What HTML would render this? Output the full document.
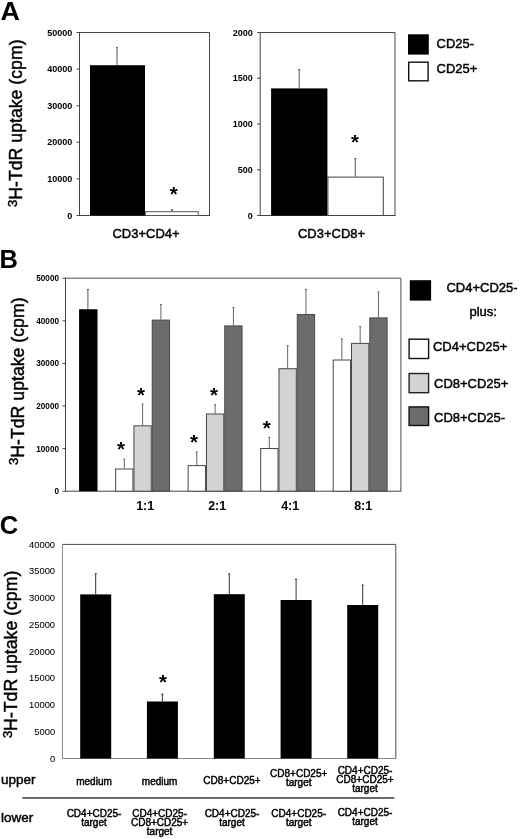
<!DOCTYPE html>
<html><head><meta charset="utf-8"><style>
html,body{margin:0;padding:0;background:#fff;}
body{width:520px;height:839px;overflow:hidden;}
svg{display:block;font-family:"Liberation Sans", sans-serif;will-change:transform;filter:blur(0.35px);}
</style></head><body>
<svg width="520" height="839" viewBox="0 0 520 839">
<rect x="0" y="0" width="520" height="839" fill="#fff"/>
<text x="0.5" y="19.6" font-size="25.5" font-weight="bold" textLength="19.4" lengthAdjust="spacingAndGlyphs">A</text>
<text transform="translate(22.3,123.2) rotate(-90)" font-size="17.7" text-anchor="middle" stroke="#000" stroke-width="0.45"><tspan font-size="13" dy="-5.3">3</tspan><tspan dy="5.3">H-TdR uptake (cpm)</tspan></text>
<line x1="79.5" y1="32.5" x2="209.5" y2="32.5" stroke="#4a4a4a" stroke-width="1"/>
<line x1="209.5" y1="32.5" x2="209.5" y2="215.5" stroke="#4a4a4a" stroke-width="1"/>
<line x1="79.5" y1="32.0" x2="79.5" y2="216.0" stroke="#444" stroke-width="1"/>
<line x1="79.0" y1="215.5" x2="210.0" y2="215.5" stroke="#444" stroke-width="1"/>
<line x1="76.5" y1="215.5" x2="79.5" y2="215.5" stroke="#444" stroke-width="1"/>
<text x="72.2" y="218.6" font-size="9" text-anchor="end" font-weight="bold">0</text>
<line x1="76.5" y1="178.9" x2="79.5" y2="178.9" stroke="#444" stroke-width="1"/>
<text x="72.2" y="182.0" font-size="9" text-anchor="end" font-weight="bold">10000</text>
<line x1="76.5" y1="142.3" x2="79.5" y2="142.3" stroke="#444" stroke-width="1"/>
<text x="72.2" y="145.4" font-size="9" text-anchor="end" font-weight="bold">20000</text>
<line x1="76.5" y1="105.7" x2="79.5" y2="105.7" stroke="#444" stroke-width="1"/>
<text x="72.2" y="108.8" font-size="9" text-anchor="end" font-weight="bold">30000</text>
<line x1="76.5" y1="69.1" x2="79.5" y2="69.1" stroke="#444" stroke-width="1"/>
<text x="72.2" y="72.19999999999999" font-size="9" text-anchor="end" font-weight="bold">40000</text>
<line x1="76.5" y1="32.5" x2="79.5" y2="32.5" stroke="#444" stroke-width="1"/>
<text x="72.2" y="35.6" font-size="9" text-anchor="end" font-weight="bold">50000</text>
<rect x="90.00" y="65.20" width="55.00" height="150.30" fill="#000"/>
<line x1="117" y1="47.2" x2="117" y2="65.2" stroke="#555" stroke-width="1"/>
<line x1="116" y1="47.7" x2="118" y2="47.7" stroke="#555" stroke-width="1"/>
<rect x="145.50" y="211.70" width="52.80" height="3.80" fill="#fff" stroke="#555" stroke-width="1"/>
<line x1="172" y1="209.5" x2="172" y2="211" stroke="#333" stroke-width="1"/>
<line x1="171" y1="210.0" x2="173" y2="210.0" stroke="#333" stroke-width="1"/>
<text x="173.7" y="200.9345" font-size="20.5" text-anchor="middle" font-weight="bold">*</text>
<text x="146" y="238.2" font-size="13" text-anchor="middle" stroke="#000" stroke-width="0.45">CD3+CD4+</text>
<line x1="260.2" y1="32.5" x2="395" y2="32.5" stroke="#4a4a4a" stroke-width="1"/>
<line x1="395" y1="32.5" x2="395" y2="215.5" stroke="#4a4a4a" stroke-width="1"/>
<line x1="260.2" y1="32.0" x2="260.2" y2="216.0" stroke="#444" stroke-width="1"/>
<line x1="259.7" y1="215.5" x2="395.5" y2="215.5" stroke="#444" stroke-width="1"/>
<line x1="257.2" y1="215.5" x2="260.2" y2="215.5" stroke="#444" stroke-width="1"/>
<text x="252.8" y="218.6" font-size="9" text-anchor="end" font-weight="bold">0</text>
<line x1="257.2" y1="169.75" x2="260.2" y2="169.75" stroke="#444" stroke-width="1"/>
<text x="252.8" y="172.85" font-size="9" text-anchor="end" font-weight="bold">500</text>
<line x1="257.2" y1="124.0" x2="260.2" y2="124.0" stroke="#444" stroke-width="1"/>
<text x="252.8" y="127.1" font-size="9" text-anchor="end" font-weight="bold">1000</text>
<line x1="257.2" y1="78.25" x2="260.2" y2="78.25" stroke="#444" stroke-width="1"/>
<text x="252.8" y="81.35" font-size="9" text-anchor="end" font-weight="bold">1500</text>
<line x1="257.2" y1="32.5" x2="260.2" y2="32.5" stroke="#444" stroke-width="1"/>
<text x="252.8" y="35.6" font-size="9" text-anchor="end" font-weight="bold">2000</text>
<rect x="271.10" y="88.40" width="56.30" height="127.10" fill="#000"/>
<line x1="299.2" y1="69" x2="299.2" y2="88.6" stroke="#555" stroke-width="1"/>
<line x1="298.2" y1="69.5" x2="300.2" y2="69.5" stroke="#555" stroke-width="1"/>
<rect x="327.90" y="177.10" width="55.40" height="38.40" fill="#fff" stroke="#444" stroke-width="1"/>
<line x1="355.3" y1="158" x2="355.3" y2="176.6" stroke="#555" stroke-width="1"/>
<line x1="354.3" y1="158.5" x2="356.3" y2="158.5" stroke="#555" stroke-width="1"/>
<text x="355" y="149.4345" font-size="20.5" text-anchor="middle" font-weight="bold">*</text>
<text x="331.5" y="238.2" font-size="13" text-anchor="middle" stroke="#000" stroke-width="0.45">CD3+CD8+</text>
<rect x="408.00" y="34.30" width="20.80" height="20.30" fill="#000"/>
<rect x="408.70" y="62.20" width="19.40" height="18.60" fill="#fff" stroke="#111" stroke-width="1.4"/>
<text x="436.5" y="47.7" font-size="13" stroke="#000" stroke-width="0.45">CD25-</text>
<text x="436.5" y="73.3" font-size="13" stroke="#000" stroke-width="0.45">CD25+</text>
<text x="-0.5" y="268.3" font-size="25.5" font-weight="bold">B</text>
<text transform="translate(23.6,381.2) rotate(-90)" font-size="17.7" text-anchor="middle" stroke="#000" stroke-width="0.45"><tspan font-size="13" dy="-5.3">3</tspan><tspan dy="5.3">H-TdR uptake (cpm)</tspan></text>
<line x1="65.5" y1="278.2" x2="400.9" y2="278.2" stroke="#4a4a4a" stroke-width="1"/>
<line x1="400.9" y1="278.2" x2="400.9" y2="491.2" stroke="#4a4a4a" stroke-width="1"/>
<line x1="65.5" y1="277.7" x2="65.5" y2="491.7" stroke="#444" stroke-width="1"/>
<line x1="65.0" y1="491.2" x2="401.4" y2="491.2" stroke="#444" stroke-width="1"/>
<line x1="62.5" y1="491.2" x2="65.5" y2="491.2" stroke="#444" stroke-width="1"/>
<text x="59" y="494.09999999999997" font-size="8.2" text-anchor="end" font-weight="bold">0</text>
<line x1="62.5" y1="448.59999999999997" x2="65.5" y2="448.59999999999997" stroke="#444" stroke-width="1"/>
<text x="59" y="451.49999999999994" font-size="8.2" text-anchor="end" font-weight="bold">10000</text>
<line x1="62.5" y1="406.0" x2="65.5" y2="406.0" stroke="#444" stroke-width="1"/>
<text x="59" y="408.9" font-size="8.2" text-anchor="end" font-weight="bold">20000</text>
<line x1="62.5" y1="363.4" x2="65.5" y2="363.4" stroke="#444" stroke-width="1"/>
<text x="59" y="366.29999999999995" font-size="8.2" text-anchor="end" font-weight="bold">30000</text>
<line x1="62.5" y1="320.79999999999995" x2="65.5" y2="320.79999999999995" stroke="#444" stroke-width="1"/>
<text x="59" y="323.69999999999993" font-size="8.2" text-anchor="end" font-weight="bold">40000</text>
<line x1="62.5" y1="278.2" x2="65.5" y2="278.2" stroke="#444" stroke-width="1"/>
<text x="59" y="281.09999999999997" font-size="8.2" text-anchor="end" font-weight="bold">50000</text>
<rect x="79.10" y="309.25" width="18.40" height="181.95" fill="#000"/>
<line x1="87.9" y1="289" x2="87.9" y2="309.25" stroke="#555" stroke-width="1"/>
<line x1="86.9" y1="289.5" x2="88.9" y2="289.5" stroke="#555" stroke-width="1"/>
<line x1="124.28" y1="458.7" x2="124.28" y2="468.5" stroke="#666" stroke-width="1"/>
<line x1="123.28" y1="459.2" x2="125.28" y2="459.2" stroke="#666" stroke-width="1"/>
<rect x="115.63" y="469.00" width="17.30" height="22.20" fill="#fff" stroke="#484848" stroke-width="1"/>
<line x1="142.58" y1="403.7" x2="142.58" y2="425.3" stroke="#666" stroke-width="1"/>
<line x1="141.58" y1="404.2" x2="143.58" y2="404.2" stroke="#666" stroke-width="1"/>
<rect x="133.93" y="425.80" width="17.30" height="65.40" fill="#d3d3d3" stroke="#484848" stroke-width="1"/>
<line x1="160.88" y1="304" x2="160.88" y2="319.6" stroke="#666" stroke-width="1"/>
<line x1="159.88" y1="304.5" x2="161.88" y2="304.5" stroke="#666" stroke-width="1"/>
<rect x="152.23" y="320.10" width="17.30" height="171.10" fill="#6c6c6c" stroke="#484848" stroke-width="1"/>
<line x1="196.81" y1="451.5" x2="196.81" y2="465.1" stroke="#666" stroke-width="1"/>
<line x1="195.81" y1="452.0" x2="197.81" y2="452.0" stroke="#666" stroke-width="1"/>
<rect x="188.16" y="465.60" width="17.30" height="25.60" fill="#fff" stroke="#484848" stroke-width="1"/>
<line x1="215.11" y1="404.2" x2="215.11" y2="413.5" stroke="#666" stroke-width="1"/>
<line x1="214.11" y1="404.7" x2="216.11" y2="404.7" stroke="#666" stroke-width="1"/>
<rect x="206.46" y="414.00" width="17.30" height="77.20" fill="#d3d3d3" stroke="#484848" stroke-width="1"/>
<line x1="233.41" y1="307" x2="233.41" y2="325.4" stroke="#666" stroke-width="1"/>
<line x1="232.41" y1="307.5" x2="234.41" y2="307.5" stroke="#666" stroke-width="1"/>
<rect x="224.76" y="325.90" width="17.30" height="165.30" fill="#6c6c6c" stroke="#484848" stroke-width="1"/>
<line x1="269.34000000000003" y1="436.9" x2="269.34000000000003" y2="448" stroke="#666" stroke-width="1"/>
<line x1="268.34000000000003" y1="437.4" x2="270.34000000000003" y2="437.4" stroke="#666" stroke-width="1"/>
<rect x="260.69" y="448.50" width="17.30" height="42.70" fill="#fff" stroke="#484848" stroke-width="1"/>
<line x1="287.64" y1="345.4" x2="287.64" y2="368.2" stroke="#666" stroke-width="1"/>
<line x1="286.64" y1="345.9" x2="288.64" y2="345.9" stroke="#666" stroke-width="1"/>
<rect x="278.99" y="368.70" width="17.30" height="122.50" fill="#d3d3d3" stroke="#484848" stroke-width="1"/>
<line x1="305.94000000000005" y1="289" x2="305.94000000000005" y2="314" stroke="#666" stroke-width="1"/>
<line x1="304.94000000000005" y1="289.5" x2="306.94000000000005" y2="289.5" stroke="#666" stroke-width="1"/>
<rect x="297.29" y="314.50" width="17.30" height="176.70" fill="#6c6c6c" stroke="#484848" stroke-width="1"/>
<line x1="341.87" y1="338.6" x2="341.87" y2="359.5" stroke="#666" stroke-width="1"/>
<line x1="340.87" y1="339.1" x2="342.87" y2="339.1" stroke="#666" stroke-width="1"/>
<rect x="333.22" y="360.00" width="17.30" height="131.20" fill="#fff" stroke="#484848" stroke-width="1"/>
<line x1="360.1700000000001" y1="326" x2="360.1700000000001" y2="342.9" stroke="#666" stroke-width="1"/>
<line x1="359.1700000000001" y1="326.5" x2="361.1700000000001" y2="326.5" stroke="#666" stroke-width="1"/>
<rect x="351.52" y="343.40" width="17.30" height="147.80" fill="#d3d3d3" stroke="#484848" stroke-width="1"/>
<line x1="378.47" y1="291.5" x2="378.47" y2="317.4" stroke="#666" stroke-width="1"/>
<line x1="377.47" y1="292.0" x2="379.47" y2="292.0" stroke="#666" stroke-width="1"/>
<rect x="369.82" y="317.90" width="17.30" height="173.30" fill="#6c6c6c" stroke="#484848" stroke-width="1"/>
<text x="121.1" y="455.53450000000004" font-size="20.5" text-anchor="middle" font-weight="bold">*</text>
<text x="141" y="402.3345" font-size="20.5" text-anchor="middle" font-weight="bold">*</text>
<text x="194" y="449.4345" font-size="20.5" text-anchor="middle" font-weight="bold">*</text>
<text x="214" y="402.4345" font-size="20.5" text-anchor="middle" font-weight="bold">*</text>
<text x="266.8" y="435.03450000000004" font-size="20.5" text-anchor="middle" font-weight="bold">*</text>
<text x="145.2" y="510.3" font-size="12.5" text-anchor="middle" font-weight="bold">1:1</text>
<text x="217.2" y="510.3" font-size="12.5" text-anchor="middle" font-weight="bold">2:1</text>
<text x="290.2" y="510.3" font-size="12.5" text-anchor="middle" font-weight="bold">4:1</text>
<text x="363.2" y="510.3" font-size="12.5" text-anchor="middle" font-weight="bold">8:1</text>
<rect x="409.80" y="280.20" width="21.30" height="20.40" fill="#000"/>
<text x="446.4" y="292.4" font-size="13" stroke="#000" stroke-width="0.45">CD4+CD25-</text>
<text x="469.5" y="315.6" font-size="13" stroke="#000" stroke-width="0.45">plus:</text>
<rect x="409.10" y="339.20" width="19.50" height="19.30" fill="#fff" stroke="#111" stroke-width="1.4"/>
<text x="432.9" y="351.3" font-size="13" stroke="#000" stroke-width="0.45">CD4+CD25+</text>
<rect x="409.10" y="373.50" width="19.50" height="19.20" fill="#d3d3d3" stroke="#222" stroke-width="1.4"/>
<text x="434" y="388.4" font-size="13" stroke="#000" stroke-width="0.45">CD8+CD25+</text>
<rect x="409.10" y="406.90" width="19.50" height="18.60" fill="#6c6c6c" stroke="#111" stroke-width="1.4"/>
<text x="434" y="421.6" font-size="13" stroke="#000" stroke-width="0.45">CD8+CD25-</text>
<text x="-0.2" y="533.8" font-size="25.5" font-weight="bold">C</text>
<text transform="translate(16.9,654.4) rotate(-90)" font-size="17.7" text-anchor="middle" stroke="#000" stroke-width="0.45"><tspan font-size="13" dy="-5.3">3</tspan><tspan dy="5.3">H-TdR uptake (cpm)</tspan></text>
<line x1="62.5" y1="544.4" x2="395.8" y2="544.4" stroke="#4a4a4a" stroke-width="1"/>
<line x1="395.8" y1="544.4" x2="395.8" y2="758.5" stroke="#4a4a4a" stroke-width="1"/>
<line x1="62.5" y1="543.9" x2="62.5" y2="759.0" stroke="#888" stroke-width="1"/>
<line x1="62.0" y1="758.5" x2="396.3" y2="758.5" stroke="#888" stroke-width="1"/>
<text x="55.1" y="761.7" font-size="9.4" text-anchor="end" stroke="#000" stroke-width="0.05">0</text>
<text x="55.1" y="734.9375" font-size="9.4" text-anchor="end" stroke="#000" stroke-width="0.05">5000</text>
<text x="55.1" y="708.1750000000001" font-size="9.4" text-anchor="end" stroke="#000" stroke-width="0.05">10000</text>
<text x="55.1" y="681.4125" font-size="9.4" text-anchor="end" stroke="#000" stroke-width="0.05">15000</text>
<text x="55.1" y="654.6500000000001" font-size="9.4" text-anchor="end" stroke="#000" stroke-width="0.05">20000</text>
<text x="55.1" y="627.8875" font-size="9.4" text-anchor="end" stroke="#000" stroke-width="0.05">25000</text>
<text x="55.1" y="601.125" font-size="9.4" text-anchor="end" stroke="#000" stroke-width="0.05">30000</text>
<text x="55.1" y="574.3625" font-size="9.4" text-anchor="end" stroke="#000" stroke-width="0.05">35000</text>
<text x="55.1" y="547.6" font-size="9.4" text-anchor="end" stroke="#000" stroke-width="0.05">40000</text>
<rect x="80.20" y="594.40" width="31.00" height="164.10" fill="#000"/>
<line x1="95.7" y1="573.4" x2="95.7" y2="594.4" stroke="#333" stroke-width="1"/>
<line x1="94.7" y1="573.9" x2="96.7" y2="573.9" stroke="#333" stroke-width="1"/>
<rect x="146.90" y="701.50" width="31.00" height="57.00" fill="#000"/>
<line x1="162.4" y1="693.8" x2="162.4" y2="701.5" stroke="#333" stroke-width="1"/>
<line x1="161.4" y1="694.3" x2="163.4" y2="694.3" stroke="#333" stroke-width="1"/>
<rect x="213.80" y="594.20" width="31.00" height="164.30" fill="#000"/>
<line x1="229.3" y1="573.5" x2="229.3" y2="594.2" stroke="#333" stroke-width="1"/>
<line x1="228.3" y1="574.0" x2="230.3" y2="574.0" stroke="#333" stroke-width="1"/>
<rect x="280.60" y="600.00" width="31.00" height="158.50" fill="#000"/>
<line x1="296.1" y1="578.8" x2="296.1" y2="600" stroke="#333" stroke-width="1"/>
<line x1="295.1" y1="579.3" x2="297.1" y2="579.3" stroke="#333" stroke-width="1"/>
<rect x="347.20" y="605.00" width="31.00" height="153.50" fill="#000"/>
<line x1="362.7" y1="584.6" x2="362.7" y2="605" stroke="#333" stroke-width="1"/>
<line x1="361.7" y1="585.1" x2="363.7" y2="585.1" stroke="#333" stroke-width="1"/>
<text x="163.1" y="688.5345" font-size="20.5" text-anchor="middle" font-weight="bold">*</text>
<text x="1" y="784.4" font-size="13.5" stroke="#000" stroke-width="0.45">upper</text>
<text x="1" y="822.4" font-size="13.5" stroke="#000" stroke-width="0.45">lower</text>
<text x="94" y="784.5" font-size="10" text-anchor="middle" stroke="#000" stroke-width="0.45">medium</text>
<text x="159.6" y="784.5" font-size="10" text-anchor="middle" stroke="#000" stroke-width="0.45">medium</text>
<text x="232" y="784" font-size="10" text-anchor="middle" stroke="#000" stroke-width="0.45">CD8+CD25+</text>
<text x="298.7" y="776.5" font-size="10" text-anchor="middle" stroke="#000" stroke-width="0.45">CD8+CD25+</text>
<text x="298.7" y="786" font-size="10" text-anchor="middle" stroke="#000" stroke-width="0.45">target</text>
<text x="365" y="773.5" font-size="10" text-anchor="middle" stroke="#000" stroke-width="0.45">CD4+CD25-</text>
<text x="365" y="782.9" font-size="10" text-anchor="middle" stroke="#000" stroke-width="0.45">CD8+CD25+</text>
<text x="365" y="792.2" font-size="10" text-anchor="middle" stroke="#000" stroke-width="0.45">target</text>
<text x="94" y="817" font-size="10" text-anchor="middle" stroke="#000" stroke-width="0.45">CD4+CD25-</text>
<text x="94" y="825.8" font-size="10" text-anchor="middle" stroke="#000" stroke-width="0.45">target</text>
<text x="159.6" y="817" font-size="10" text-anchor="middle" stroke="#000" stroke-width="0.45">CD4+CD25-</text>
<text x="159.6" y="826" font-size="10" text-anchor="middle" stroke="#000" stroke-width="0.45">CD8+CD25+</text>
<text x="159.6" y="834.8" font-size="10" text-anchor="middle" stroke="#000" stroke-width="0.45">target</text>
<text x="232" y="816.5" font-size="10" text-anchor="middle" stroke="#000" stroke-width="0.45">CD4+CD25-</text>
<text x="232" y="825.8" font-size="10" text-anchor="middle" stroke="#000" stroke-width="0.45">target</text>
<text x="298.7" y="816.5" font-size="10" text-anchor="middle" stroke="#000" stroke-width="0.45">CD4+CD25-</text>
<text x="298.7" y="825.8" font-size="10" text-anchor="middle" stroke="#000" stroke-width="0.45">target</text>
<text x="365" y="815.8" font-size="10" text-anchor="middle" stroke="#000" stroke-width="0.45">CD4+CD25-</text>
<text x="365" y="825.2" font-size="10" text-anchor="middle" stroke="#000" stroke-width="0.45">target</text>
<line x1="22.3" y1="798.0" x2="394.3" y2="798.0" stroke="#3a3a3a" stroke-width="1.4"/>
</svg>
</body></html>
